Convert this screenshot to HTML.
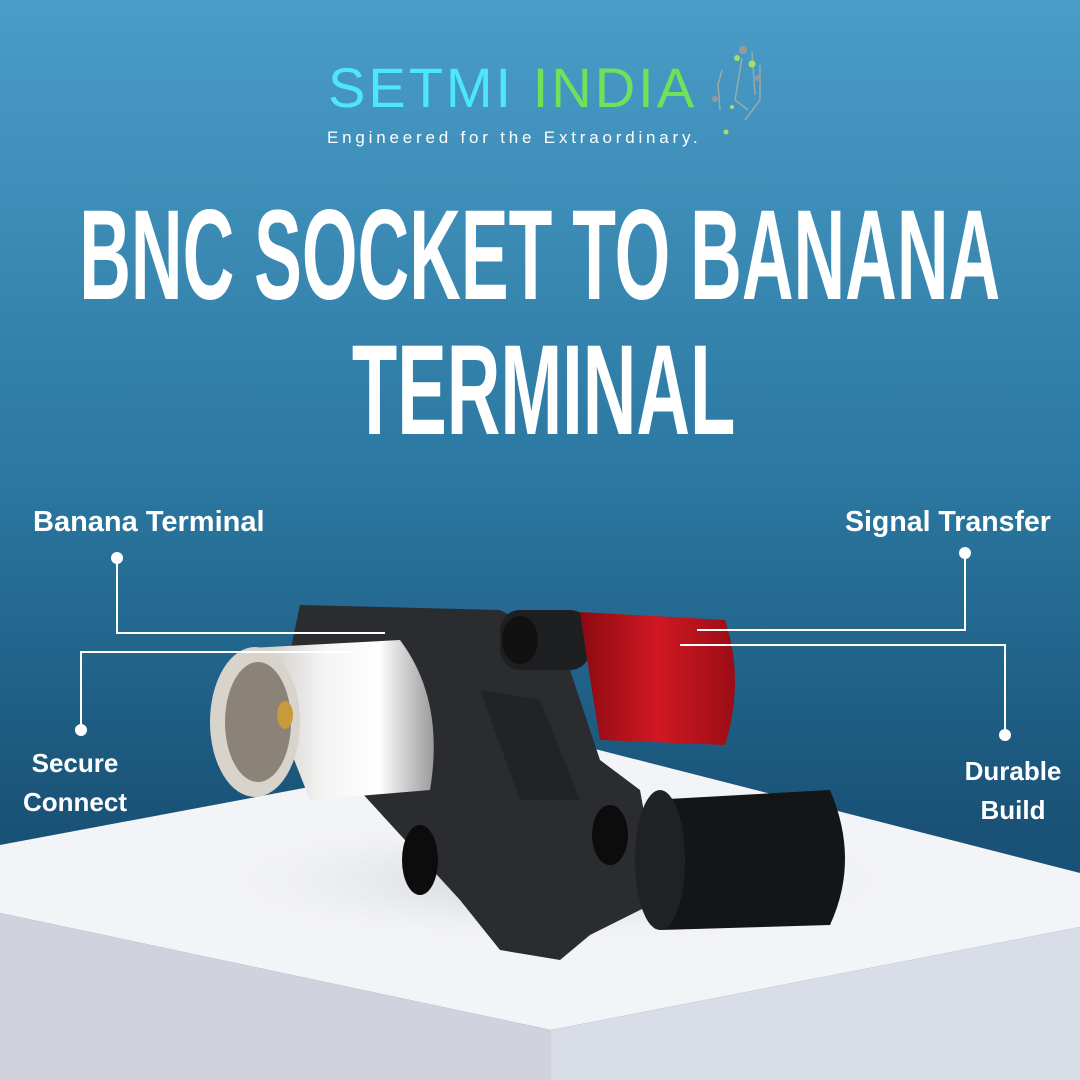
<!DOCTYPE html>
<html><head><meta charset="utf-8"><style>
body{margin:0;width:1080px;height:1080px;overflow:hidden;font-family:"Liberation Sans",sans-serif}
.t{position:absolute;color:#fff;white-space:nowrap}
.ti{position:absolute;left:0;width:1080px;display:flex;justify-content:center;color:#fff;font-size:128px;font-weight:bold;line-height:125px;white-space:nowrap}
.ti span{display:inline-block;transform:scaleX(0.58);transform-origin:50% 0}
</style></head><body>
<svg width="1080" height="1080" viewBox="0 0 1080 1080" style="position:absolute;left:0;top:0">
<defs>
<linearGradient id="bg" x1="0" y1="0" x2="0" y2="1">
<stop offset="0" stop-color="#4a9dc8"/><stop offset="0.45" stop-color="#2a77a0"/><stop offset="0.75" stop-color="#1a5378"/><stop offset="1" stop-color="#17476a"/></linearGradient>
<linearGradient id="silver" x1="0" y1="0" x2="1" y2="0"><stop offset="0" stop-color="#c8c3bb"/><stop offset="0.4" stop-color="#f4f4f4"/><stop offset="0.7" stop-color="#fff"/><stop offset="1" stop-color="#9a9a9a"/></linearGradient>
<linearGradient id="red" x1="0" y1="0" x2="1" y2="0"><stop offset="0" stop-color="#8c0a12"/><stop offset="0.5" stop-color="#d01822"/><stop offset="1" stop-color="#9a0d15"/></linearGradient>
<radialGradient id="sh" cx="0.5" cy="0.5" r="0.5"><stop offset="0" stop-color="#c9ccd4"/><stop offset="1" stop-color="#f2f3f6" stop-opacity="0"/></radialGradient>
</defs>
<rect width="1080" height="1080" fill="url(#bg)"/>
<polygon points="0,845 560,740 1080,873 1080,927 551,1030 0,913" fill="#f3f4f7"/>
<polygon points="0,913 551,1030 551,1080 0,1080" fill="#d0d3dd"/>
<polygon points="551,1030 1080,927 1080,1080 551,1080" fill="#d9dde7"/>
<ellipse cx="560" cy="880" rx="380" ry="70" fill="url(#sh)"/>
<path d="M300,605 L500,610 L560,640 L600,760 L640,790 L660,900 L590,935 L560,960 L500,950 L460,900 L350,780 L280,700 Z" fill="#2a2c2f"/>
<rect x="500" y="610" width="90" height="60" rx="20" fill="#1e1f21"/>
<ellipse cx="520" cy="640" rx="18" ry="24" fill="#111"/>
<path d="M580,612 L725,620 Q745,680 725,745 L600,740 Q590,680 580,612 Z" fill="url(#red)"/>
<path d="M650,800 L830,790 Q860,860 830,925 L660,930 Z" fill="#141516"/>
<ellipse cx="660" cy="860" rx="25" ry="70" fill="#202124"/>
<ellipse cx="610" cy="835" rx="18" ry="30" fill="#0c0c0c"/>
<ellipse cx="420" cy="860" rx="18" ry="35" fill="#0c0c0c"/>
<path d="M480,690 L540,700 L580,800 L520,800 Z" fill="#222326"/>
<path d="M250,648 L400,640 Q445,700 430,790 L310,800 Z" fill="url(#silver)"/>
<ellipse cx="255" cy="722" rx="45" ry="75" fill="#d8d4cc"/>
<ellipse cx="258" cy="722" rx="33" ry="60" fill="#8c8378"/>
<ellipse cx="285" cy="715" rx="8" ry="14" fill="#c79a3a"/>
<g stroke="#fff" stroke-width="2" fill="none">
<polyline points="117,558 117,633 385,633"/>
<polyline points="965,553 965,630 697,630"/>
<polyline points="81,730 81,652 355,652"/>
<polyline points="1005,735 1005,645 680,645"/>
</g>
<g fill="#fff"><circle cx="117" cy="558" r="6"/><circle cx="965" cy="553" r="6"/><circle cx="81" cy="730" r="6"/><circle cx="1005" cy="735" r="6"/></g>
<g stroke="#9aa" stroke-width="1.5" fill="none"><path d="M722,70 L718,85 L720,110 M742,58 L735,100 L748,110 M752,52 L755,95 M760,65 L760,100 L745,120"/></g>
<g><circle cx="743" cy="50" r="4" fill="#999"/><circle cx="737" cy="58" r="3" fill="#a5e060"/><circle cx="752" cy="64" r="3.5" fill="#a5e060"/><circle cx="758" cy="78" r="3" fill="#999"/><circle cx="715" cy="99" r="3" fill="#999"/><circle cx="726" cy="132" r="2.5" fill="#a5e060"/><circle cx="732" cy="107" r="2" fill="#a5e060"/></g>
</svg>
<div class="t" style="left:328px;top:58px;font-size:56px;letter-spacing:3px;line-height:60px"><span style="color:#4ee6fa">SETMI</span> <span style="color:#6fe25a">INDIA</span></div>
<div class="t" style="left:327px;top:128px;font-size:17px;letter-spacing:3.8px">Engineered for the Extraordinary.</div>
<div class="ti" style="top:193px"><span style="transform:scaleX(0.559)">BNC SOCKET TO BANANA</span></div>
<div class="ti" style="top:328px;left:4px"><span>TERMINAL</span></div>
<div class="t" style="left:33px;top:506px;font-size:29px;font-weight:bold">Banana Terminal</div>
<div class="t" style="left:845px;top:506px;font-size:28.5px;font-weight:bold">Signal Transfer</div>
<div class="t" style="left:16px;top:744px;font-size:26px;font-weight:bold;line-height:39px;text-align:center;width:118px">Secure<br>Connect</div>
<div class="t" style="left:955px;top:752px;font-size:26px;font-weight:bold;line-height:39px;text-align:center;width:116px">Durable<br>Build</div>
</body></html>
